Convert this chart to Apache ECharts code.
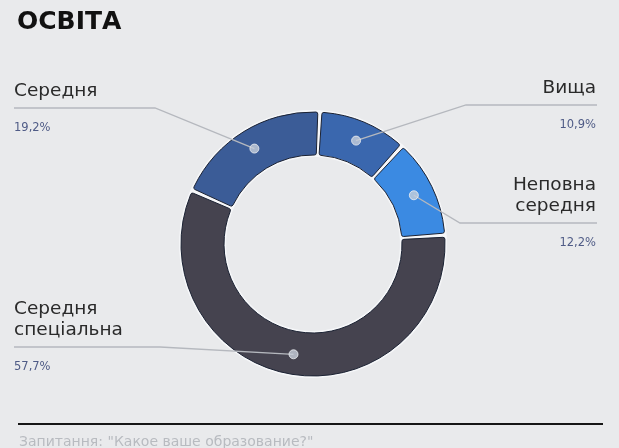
<!DOCTYPE html>
<html lang="uk">
<head>
<meta charset="utf-8">
<title>Освіта</title>
<script src="https://cdn.jsdelivr.net/npm/echarts@6/dist/echarts.min.js"></script>
<style>
	html, body { margin: 0; padding: 0; background: #e9eaec; }
	#chart { width: 619px; height: 448px; }
</style>
</head>
<body>
<div id="chart"></div>
<script>
// дані
var categories = ['Вища', 'Неповна\nсередня', 'Середня\nспеціальна', 'Середня'];
var shares = [10.9, 12.2, 57.7, 19.2];
var shareLabels = ['10,9%', '12,2%', '57,7%', '19,2%'];
var colors = ['#3a67ae', '#3b8ae2', '#45434f', '#3b5c97'];

// розкладка
var cx = 313, cy = 244;
var lineY = [105, 223, 347, 108];
var elbowX = [466, 460, 160, 155];
var dotR = 112;

var total = 0;
shares.forEach(function (v) { total += v; });
var acc = 0;
var dots = shares.map(function (v) {
	var m = acc + v / 2;
	acc += v;
	return [dotR, m];
});

var pieData = categories.map(function (c, i) {
	return { name: c, value: shares[i], itemStyle: { color: colors[i] } };
});
var carrierData = categories.map(function (c, i) {
	return { name: c, value: shares[i] };
});

var myChart = echarts.init(document.getElementById('chart'));
var option = {
	backgroundColor: '#e9eaec',
	animation: false,
	title: {
		text: 'ОСВІТА',
		left: 12,
		top: 5,
		textStyle: { fontFamily: 'DejaVu Sans', fontSize: 25, fontWeight: 'bold', color: '#111' }
	},
	polar: { center: [cx, cy], radius: 133 },
	angleAxis: { type: 'value', min: 0, max: total, startAngle: 87, clockwise: true, show: false },
	radiusAxis: { type: 'value', min: 0, max: 133, show: false },
	graphic: [
		{ type: 'line', shape: { x1: 18, y1: 424, x2: 603, y2: 424 }, style: { stroke: '#161616', lineWidth: 2 } },
		{ type: 'text', left: 19, top: 435, style: { text: 'Запитання: "Какое ваше образование?"', fill: '#b8bbc0', font: '14px "DejaVu Sans"' } }
	],
	series: [
		{
			// білий підклад під щілинами
			type: 'pie', silent: true, z: 1,
			center: [cx, cy], radius: [87, 134],
			startAngle: 87,
			label: { show: false }, labelLine: { show: false },
			itemStyle: { color: '#f6f7f9' },
			data: [{ value: 1 }]
		},
		{
			type: 'pie', silent: true, z: 2,
			center: [cx, cy], radius: [89, 132],
			startAngle: 87, clockwise: true,
			padAngle: 1.8,
			itemStyle: { borderColor: '#1b2233', borderWidth: 1, borderRadius: 2 },
			label: { show: false }, labelLine: { show: false },
			data: pieData
		},
		{
			// підписи з виносками
			type: 'pie', silent: true, z: 3,
			center: [cx, cy], radius: [0, dotR],
			startAngle: 87, clockwise: true,
			avoidLabelOverlap: false,
			itemStyle: { color: 'rgba(0,0,0,0)' },
			label: {
				show: true,
				position: 'outside',
				formatter: function (p) {
					var lines = p.name.split('\n').map(function (s) { return '{n|' + s + '}'; });
					return lines.join('\n') + '\n{p|' + shareLabels[p.dataIndex] + '}';
				},
				rich: {
					n: { fontFamily: 'DejaVu Sans', fontSize: 18.5, color: '#2a2a2a', lineHeight: 21 },
					p: { fontFamily: 'DejaVu Sans', fontSize: 11.5, color: '#4f5b86', lineHeight: 52 }
				}
			},
			labelLine: {
				show: true, length: 10, length2: 10,
				lineStyle: { color: '#b5b8be', width: 1.3 }
			},
			labelLayout: function (p) {
				var i = p.dataIndex;
				var start = p.labelLinePoints[0];
				var right = start[0] > cx;
				var L = lineY[i];
				var n = categories[i].split('\n').length;
				return {
					x: right ? 596 : 14,
					y: L - 6 - 21 * n,
					align: right ? 'right' : 'left',
					verticalAlign: 'top',
					labelLinePoints: [start, [elbowX[i], L], [right ? 597 : 14, L]]
				};
			},
			data: carrierData
		},
		{
			type: 'scatter', coordinateSystem: 'polar', silent: true, z: 4,
			symbolSize: 9,
			itemStyle: { color: '#c8d0db', borderColor: '#edf0f4', borderWidth: 1 },
			data: dots
		}
	]
};
myChart.setOption(option, true);
</script>
</body>
</html>
